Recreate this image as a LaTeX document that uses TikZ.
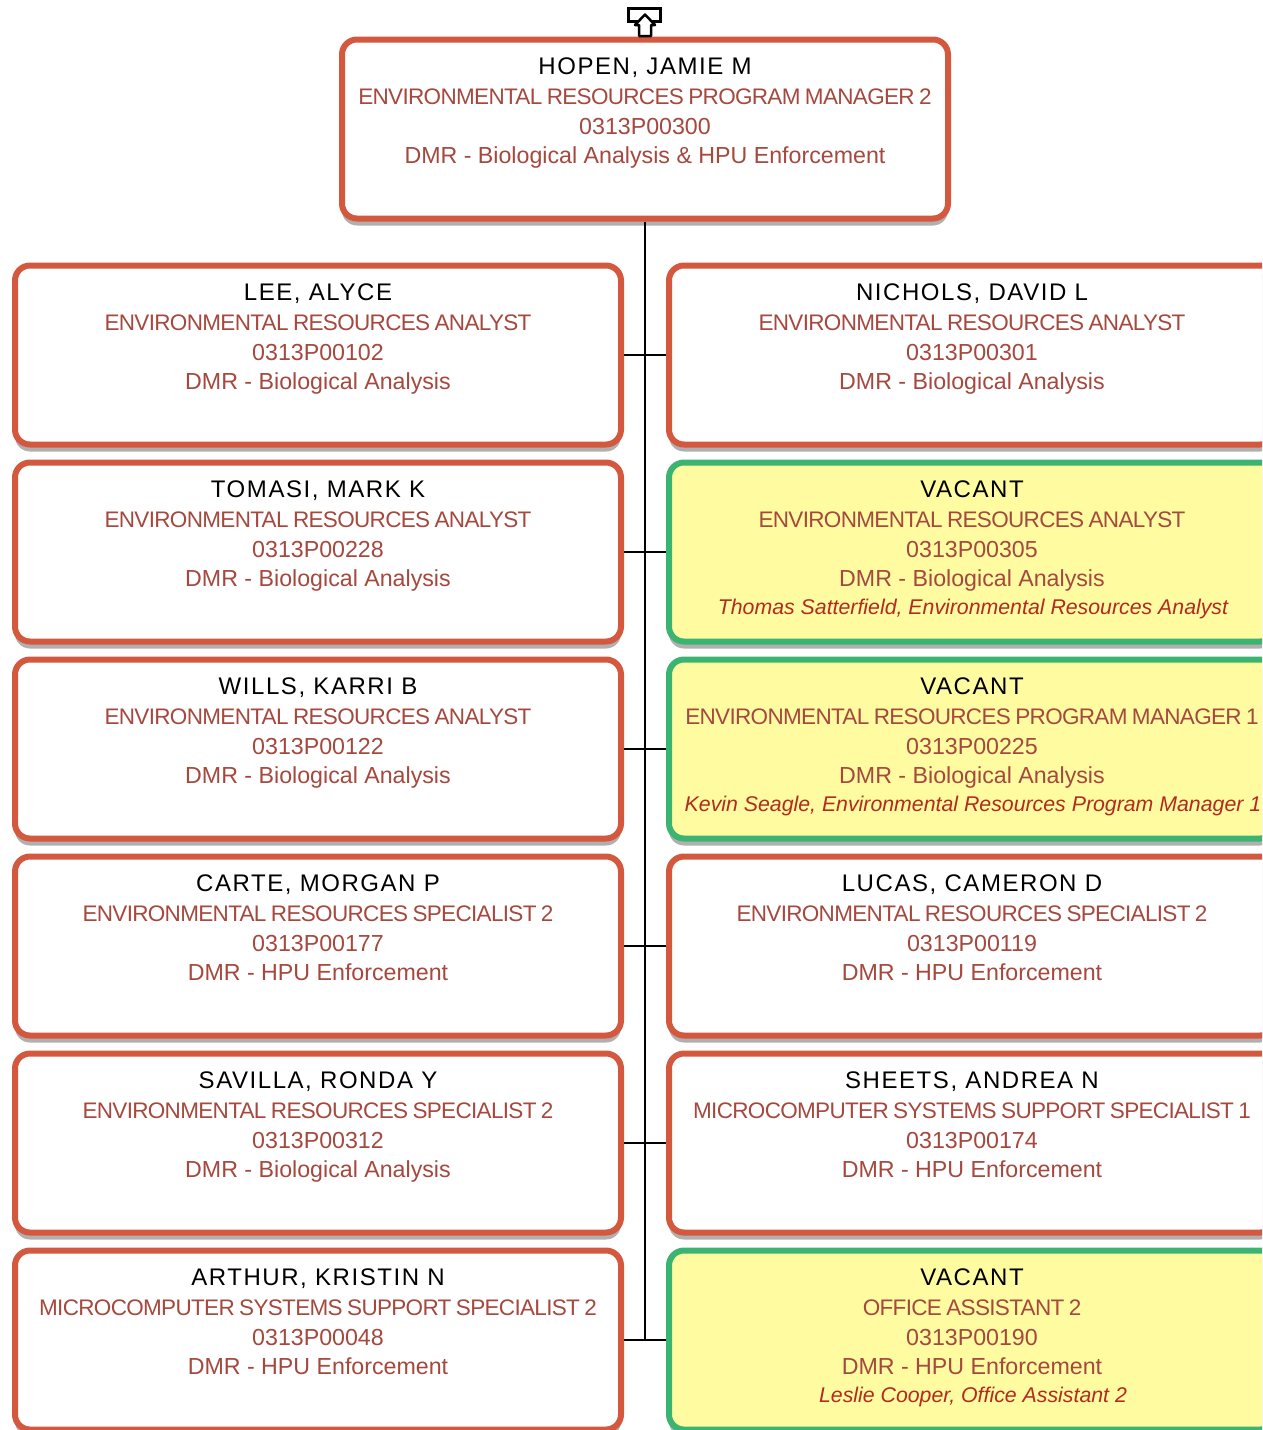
\documentclass[tikz,border=0pt]{standalone}
\usepackage{fontspec}
\setmainfont{Liberation Sans}
\newfontfamily\widefont[LetterSpace=6.5]{Liberation Sans}
\newfontfamily\tightfont[LetterSpace=-3,WordSpace=0.8]{Liberation Sans}
\usetikzlibrary{shadows}
\definecolor{rust}{RGB}{212,88,62}
\definecolor{leaf}{RGB}{60,180,113}
\definecolor{pale}{RGB}{255,251,160}
\definecolor{brick}{RGB}{165,72,62}
\definecolor{crimson}{RGB}{178,42,32}
\definecolor{smoke}{RGB}{176,176,176}
\tikzset{
    % Filled position
    staff/.style={
        draw=rust,
        fill=white,
        line width=6pt,
        rounded corners=15pt,
        minimum width=606pt,
        minimum height=179pt,
        drop shadow={shadow xshift=0pt,shadow yshift=-7pt,fill=smoke,opacity=1},
    },
    % Vacant position
    vacant/.style={
        staff,
        draw=leaf,
        fill=pale,
    },
    nametext/.style={anchor=base,inner sep=0pt,text=black,font=\fontsize{24}{24}\widefont},
    titletext/.style={anchor=base,inner sep=0pt,text=brick,font=\fontsize{22.5}{22.5}\tightfont},
    unittext/.style={anchor=base,inner sep=0pt,text=brick,font=\fontsize{23.2}{23.2}\selectfont},
    notetext/.style={anchor=base,inner sep=0pt,xshift=1pt,text=crimson,font=\fontsize{21.3}{21.3}\selectfont\itshape},
    link/.style={black,line width=2pt},
}
% id, style, x, y, name, title, code, unit
\newcommand{\staffbox}[8]{
    \node[#2] (#1) at (#3,#4) {};
    \node[nametext,yshift=-38pt] at (#1.north) {#5};
    \node[titletext,yshift=-68pt] at (#1.north) {#6};
    \node[unittext,yshift=-98pt] at (#1.north) {#7};
    \node[unittext,yshift=-127pt] at (#1.north) {#8};
}
\begin{document}
\begin{tikzpicture}[x=1pt,y=-1pt]
    \clip (0,0) rectangle (1262,1430);
    \fill[white] (0,0) rectangle (1262,1430);

    \coordinate (trunk) at (645,1340);

    \staffbox{top}{staff}{645}{129}{HOPEN, JAMIE M}{ENVIRONMENTAL RESOURCES PROGRAM MANAGER 2}{0313P00300}{DMR - Biological Analysis \& HPU Enforcement}

    % Left column
    \staffbox{l1}{staff}{318}{355}{LEE, ALYCE}{ENVIRONMENTAL RESOURCES ANALYST}{0313P00102}{DMR - Biological Analysis}
    \staffbox{l2}{staff}{318}{552}{TOMASI, MARK K}{ENVIRONMENTAL RESOURCES ANALYST}{0313P00228}{DMR - Biological Analysis}
    \staffbox{l3}{staff}{318}{749}{WILLS, KARRI B}{ENVIRONMENTAL RESOURCES ANALYST}{0313P00122}{DMR - Biological Analysis}
    \staffbox{l4}{staff}{318}{946}{CARTE, MORGAN P}{ENVIRONMENTAL RESOURCES SPECIALIST 2}{0313P00177}{DMR - HPU Enforcement}
    \staffbox{l5}{staff}{318}{1143}{SAVILLA, RONDA Y}{ENVIRONMENTAL RESOURCES SPECIALIST 2}{0313P00312}{DMR - Biological Analysis}
    \staffbox{l6}{staff}{318}{1340}{ARTHUR, KRISTIN N}{MICROCOMPUTER SYSTEMS SUPPORT SPECIALIST 2}{0313P00048}{DMR - HPU Enforcement}

    % Right column
    \staffbox{r1}{staff}{972}{355}{NICHOLS, DAVID L}{ENVIRONMENTAL RESOURCES ANALYST}{0313P00301}{DMR - Biological Analysis}
    \staffbox{r2}{vacant}{972}{552}{VACANT}{ENVIRONMENTAL RESOURCES ANALYST}{0313P00305}{DMR - Biological Analysis}
    \node[notetext,yshift=-155pt] at (r2.north) {Thomas Satterfield, Environmental Resources Analyst};
    \staffbox{r3}{vacant}{972}{749}{VACANT}{ENVIRONMENTAL RESOURCES PROGRAM MANAGER 1}{0313P00225}{DMR - Biological Analysis}
    \node[notetext,yshift=-155pt] at (r3.north) {Kevin Seagle, Environmental Resources Program Manager 1};
    \staffbox{r4}{staff}{972}{946}{LUCAS, CAMERON D}{ENVIRONMENTAL RESOURCES SPECIALIST 2}{0313P00119}{DMR - HPU Enforcement}
    \staffbox{r5}{staff}{972}{1143}{SHEETS, ANDREA N}{MICROCOMPUTER SYSTEMS SUPPORT SPECIALIST 1}{0313P00174}{DMR - HPU Enforcement}
    \staffbox{r6}{vacant}{972}{1340}{VACANT}{OFFICE ASSISTANT 2}{0313P00190}{DMR - HPU Enforcement}
    \node[notetext,yshift=-155pt] at (r6.north) {Leslie Cooper, Office Assistant 2};

    % Connectors
    \draw[link] (top.south) -- (trunk);
    \foreach \row in {1,...,6} {
        \draw[link] (l\row.east) -- (r\row.west);
    }

    % Up arrow
    \draw[black,line width=2.5pt] (628.5,8.5) rectangle (660.5,21.5);
    \draw[black,fill=white,line width=2.5pt,line join=round] (645,14.5) -- (655,25) -- (651,25) -- (651,36) -- (639,36) -- (639,25) -- (635,25) -- cycle;
\end{tikzpicture}
\end{document}
